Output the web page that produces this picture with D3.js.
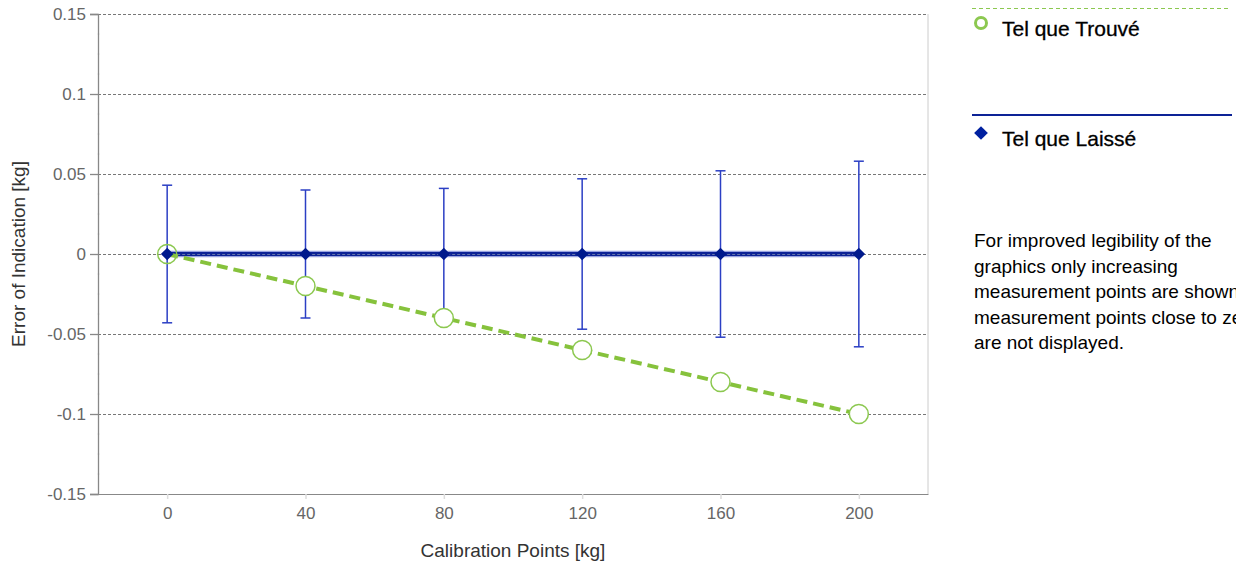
<!DOCTYPE html>
<html><head><meta charset="utf-8">
<script src="https://cdn.jsdelivr.net/npm/d3@7"></script>
<style>body{margin:0;background:#fff;overflow:hidden}svg{display:block}text{font-family:"Liberation Sans",Arial,sans-serif}</style>
</head><body>
<svg id="c" width="1236" height="564"></svg>
<script>
const calibrationPoints = [0, 40, 80, 120, 160, 200];
const asFound = [0, -0.02, -0.04, -0.06, -0.08, -0.1];
const asLeft = [0, 0, 0, 0, 0, 0];
const uncertainty = [0.043, 0.040, 0.041, 0.047, 0.052, 0.058];
const yTicks = [-0.15, -0.1, -0.05, 0, 0.05, 0.1, 0.15];
const xTicks = [0, 40, 80, 120, 160, 200];
const legendLabels = ["Tel que Trouvé", "Tel que Laissé"];
const noteLines = ["For improved legibility of the", "graphics only increasing", "measurement points are shown,", "measurement points close to zero", "are not displayed."];

const FONT = '"Liberation Sans", Arial, sans-serif';
const svg = d3.select("#c");
const L = 98, R = 928, T = 14, B = 494;
const x = d3.scaleLinear().domain([-20, 220]).range([L, R]);
const y = d3.scaleLinear().domain([-0.15, 0.15]).range([B, T]);

// right border
svg.append("line").attr("x1", R).attr("x2", R).attr("y1", T).attr("y2", B).attr("stroke", "#ccc").attr("stroke-width", 1);

// gridlines
svg.append("g").selectAll("line").data(yTicks).join("line")
  .attr("x1", L).attr("x2", R).attr("y1", d => y(d) + 0.5).attr("y2", d => y(d) + 0.5)
  .attr("stroke", "#777").attr("stroke-width", 1).attr("stroke-dasharray", "3,2");

// minor ticks on y
const minor = d3.range(-0.15, 0.1501, 0.0125).filter(v => Math.abs(Math.round(v / 0.05) * 0.05 - v) > 1e-6);
svg.append("g").selectAll("line").data(minor).join("line")
  .attr("x1", L - 1).attr("x2", L + 2).attr("y1", d => y(d)).attr("y2", d => y(d))
  .attr("stroke", "#eee").attr("stroke-width", 1);

// y axis
const yAxis = svg.append("g").attr("transform", `translate(${L},0)`)
  .call(d3.axisLeft(y).tickValues(yTicks).tickSize(8).tickPadding(4).tickFormat(d => String(+d.toFixed(2))));
yAxis.attr("font-family", FONT);
yAxis.select(".domain").attr("stroke", "#888").attr("stroke-width", 1.3);
yAxis.selectAll(".tick line").attr("stroke", "#888").attr("stroke-width", 1.3);
yAxis.selectAll("text").attr("fill", "#666").attr("font-size", 17);

// x axis
const xAxis = svg.append("g").attr("transform", `translate(0,${B})`)
  .call(d3.axisBottom(x).tickValues(xTicks).tickSize(5).tickPadding(8).tickSizeOuter(0));
xAxis.attr("font-family", FONT);
xAxis.select(".domain").attr("stroke", "#888").attr("stroke-width", 1);
xAxis.selectAll(".tick line").attr("stroke", "#ddd").attr("stroke-width", 1.5);
xAxis.selectAll("text").attr("fill", "#666").attr("font-size", 17);

// axis titles
svg.append("text").attr("x", 513).attr("y", 557).attr("text-anchor", "middle").attr("font-size", 19).attr("fill", "#333").text("Calibration Points [kg]");
svg.append("text").attr("transform", `translate(25,${y(0)}) rotate(-90)`).attr("text-anchor", "middle").attr("font-size", 19).attr("fill", "#333").text("Error of Indication [kg]");

// error bars
const eb = svg.append("g").attr("stroke", "#2b3fc4").attr("stroke-width", 1.5);
calibrationPoints.forEach((c, i) => {
  const cx = x(c);
  eb.append("line").attr("x1", cx).attr("x2", cx).attr("y1", y(asLeft[i] + uncertainty[i])).attr("y2", y(asLeft[i] - uncertainty[i]));
  eb.append("line").attr("x1", cx - 5).attr("x2", cx + 5).attr("y1", y(asLeft[i] + uncertainty[i])).attr("y2", y(asLeft[i] + uncertainty[i]));
  eb.append("line").attr("x1", cx - 5).attr("x2", cx + 5).attr("y1", y(asLeft[i] - uncertainty[i])).attr("y2", y(asLeft[i] - uncertainty[i]));
});

// as left line
const lineL = d3.line().x((d, i) => x(calibrationPoints[i])).y(d => y(d));
svg.append("path").datum(asLeft).attr("d", lineL).attr("fill", "none").attr("stroke", "#5566cc").attr("stroke-width", 6.5).attr("opacity", 0.6);
svg.append("path").datum(asLeft).attr("d", lineL).attr("fill", "none").attr("stroke", "#0d2396").attr("stroke-width", 4);
svg.append("line").attr("x1", x(0)).attr("x2", x(200)).attr("y1", y(0) + 0.5).attr("y2", y(0) + 0.5).attr("stroke", "#6677aa").attr("stroke-width", 1).attr("stroke-dasharray", "3,2");

// as found line
svg.append("path").datum(asFound).attr("d", lineL).attr("fill", "none").attr("stroke", "#86c23c").attr("stroke-width", 4).attr("stroke-dasharray", "11,6");

// as left diamonds
const diamond = d3.symbol().type(d3.symbolDiamond2).size(100);
svg.append("g").selectAll("path").data(asLeft).join("path")
  .attr("d", diamond).attr("transform", (d, i) => `translate(${x(calibrationPoints[i])},${y(d)})`)
  .attr("fill", "#001a8c");

// as found circles
svg.append("g").selectAll("circle").data(asFound).join("circle")
  .attr("cx", (d, i) => x(calibrationPoints[i])).attr("cy", d => y(d)).attr("r", 9.5)
  .attr("fill", (d, i) => i === 0 ? "none" : "#fff").attr("stroke", "#8cc850").attr("stroke-width", 1.5);

// legend
svg.append("line").attr("x1", 972).attr("x2", 1228).attr("y1", 8.5).attr("y2", 8.5).attr("stroke", "#8cc850").attr("stroke-width", 1.2).attr("stroke-dasharray", "4,3");
svg.append("circle").attr("cx", 981).attr("cy", 23).attr("r", 5.5).attr("fill", "none").attr("stroke", "#8cc850").attr("stroke-width", 3);
svg.append("text").attr("x", 1002).attr("y", 36).attr("font-size", 21).attr("fill", "#000").attr("stroke", "#000").attr("stroke-width", 0.3).text(legendLabels[0]);
svg.append("line").attr("x1", 972).attr("x2", 1232).attr("y1", 115).attr("y2", 115).attr("stroke", "#0d2396").attr("stroke-width", 2);
svg.append("path").attr("d", d3.symbol().type(d3.symbolDiamond2).size(120)).attr("transform", "translate(981,133)").attr("fill", "#0020a0");
svg.append("text").attr("x", 1002).attr("y", 146).attr("font-size", 21).attr("fill", "#000").attr("stroke", "#000").attr("stroke-width", 0.3).text(legendLabels[1]);

// note
svg.append("g").selectAll("text").data(noteLines).join("text")
  .attr("x", 974).attr("y", (d, i) => 247 + i * 25.5).attr("font-size", 19).attr("fill", "#000").text(d => d);
</script>
</body></html>
